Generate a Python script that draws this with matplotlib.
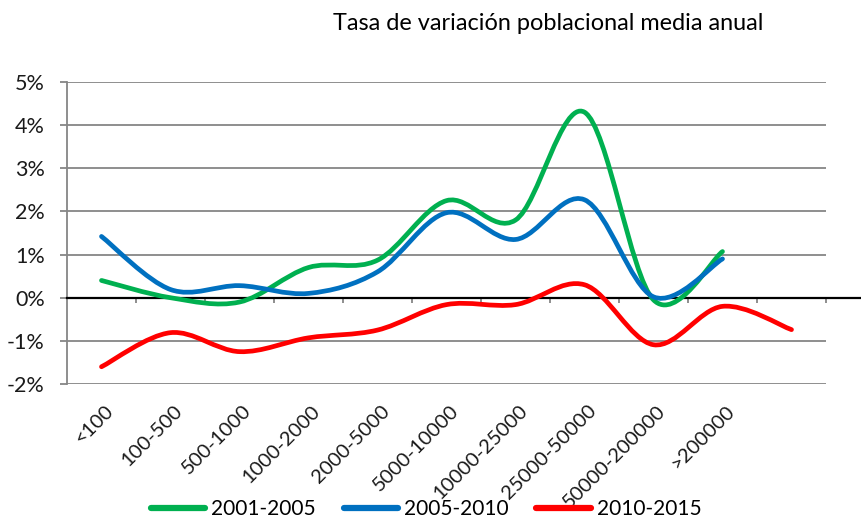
import numpy as np
import matplotlib
matplotlib.use("Agg")
import matplotlib.pyplot as plt
from matplotlib.lines import Line2D
from matplotlib.path import Path
from matplotlib.patches import PathPatch
import matplotlib.transforms as mtransforms

plt.rcParams['font.family'] = ['Lato', 'DejaVu Sans']

# Municipality size bands (inhabitants); the last slot of the axis is unlabeled
categories = ["<100", "100-500", "500-1000", "1000-2000", "2000-5000",
              "5000-10000", "10000-25000", "25000-50000", "50000-200000",
              ">200000", ""]

# Mean annual population change, in percent
s2001_2005 = [0.40, 0.00, -0.10, 0.70, 0.87, 2.25, 1.80, 4.30, -0.05, 1.07]
s2005_2010 = [1.42, 0.19, 0.28, 0.10, 0.60, 1.97, 1.35, 2.27, 0.02, 0.90]
s2010_2015 = [-1.60, -0.81, -1.25, -0.93, -0.75, -0.16, -0.16, 0.30, -1.09, -0.20, -0.74]

series_names = ["2001-2005", "2005-2010", "2010-2015"]
colors = ["#00B050", "#0070C0", "#FF0000"]
title = "Tasa de variación poblacional media anual"
yticks = [-2, -1, 0, 1, 2, 3, 4, 5]


def smooth_path(xs, ys):
    """Cubic Bezier path through the points (Catmull-Rom style control points)."""
    pts = np.column_stack([xs, ys]).astype(float)
    n = len(pts)
    verts = [pts[0]]
    codes = [Path.MOVETO]
    for i in range(n - 1):
        p0 = pts[i - 1] if i > 0 else pts[i]
        p1 = pts[i]
        p2 = pts[i + 1]
        p3 = pts[i + 2] if i + 2 < n else pts[i + 1]
        c1 = p1 + (p2 - p0) / 6.0
        c2 = p2 - (p3 - p1) / 6.0
        verts += [c1, c2, p2]
        codes += [Path.CURVE4] * 3
    return Path(verts, codes)


W, H = 862, 518
fig = plt.figure(figsize=(W / 100, H / 100), dpi=100)
left, right, top, bottom = 67, 826, 82, 384
ax = fig.add_axes([left / W, 1 - bottom / H, (right - left) / W, (bottom - top) / H])

ncat = len(categories)
ax.set_xlim(0, ncat)
ax.set_ylim(-2, 5)

grid_col = "#868686"
for y in yticks:
    if y != 0:
        ax.axhline(y, color=grid_col, lw=1.3, zorder=1)

for sp in ["top", "right", "bottom"]:
    ax.spines[sp].set_visible(False)
ax.spines["left"].set_color(grid_col)
ax.spines["left"].set_linewidth(1.3)

ax.set_yticks(yticks)
ax.set_yticklabels([f"{v}%" for v in yticks], fontsize=15.5, color="#1a1a1a")
ax.tick_params(axis="y", length=5, width=1.3, color=grid_col, pad=11)

# Category labels, rotated
xc = np.arange(ncat) + 0.5
ax.set_xticks(xc)
ax.set_xticklabels(categories, rotation=45, ha="right", va="top",
                   rotation_mode="anchor", fontsize=14.5, color="#1a1a1a")
ax.tick_params(axis="x", length=0, pad=13)
offset = mtransforms.ScaledTranslation(3 / 100, 0, fig.dpi_scale_trans)
for lab in ax.get_xticklabels():
    lab.set_transform(lab.get_transform() + offset)

# Horizontal axis crossing at zero, with category boundary ticks
zero_end = (W - left) / (right - left)
ax.add_line(Line2D([0, zero_end], [0, 0], transform=ax.get_yaxis_transform(),
                   color="black", lw=1.6, clip_on=False, zorder=4))
ax.vlines(np.arange(1, ncat + 1), -0.13, 0, color=grid_col, lw=1.3, zorder=3,
          clip_on=False)

for vals, col, name in zip([s2001_2005, s2005_2010, s2010_2015], colors, series_names):
    xs = xc[:len(vals)]
    patch = PathPatch(smooth_path(xs, vals), facecolor="none", edgecolor=col,
                      lw=3.4, capstyle="round", joinstyle="round", zorder=5)
    ax.add_patch(patch)

handles = [Line2D([], [], color=c, lw=4.5, solid_capstyle="round") for c in colors]
fig.legend(handles, series_names, loc="lower center", bbox_to_anchor=(0.4945, -0.038),
           ncol=3, frameon=False, fontsize=15, handlelength=2.6, handletextpad=0.3,
           columnspacing=1.33)

fig.text(548 / W, 1 - 23 / H, title, ha="center", va="center", fontsize=16.9,
         color="black")

fig.savefig("out.png", dpi=100, facecolor="white")
